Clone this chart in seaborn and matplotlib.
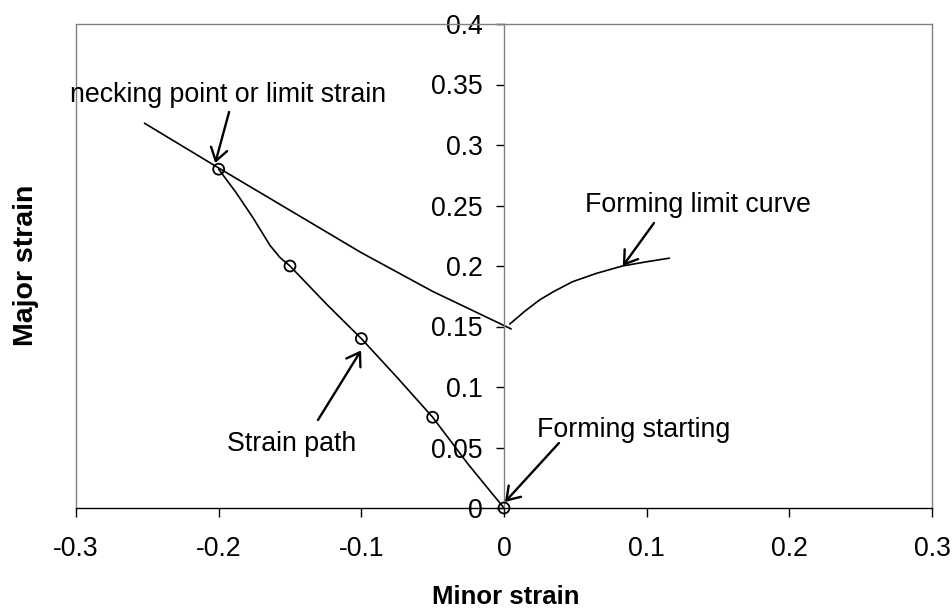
import matplotlib
matplotlib.use("Agg")
import matplotlib.pyplot as plt
import seaborn as sns
import pandas as pd

# Strain path (minor, major) followed by the sheet up to necking
path_minor = [0.0, -0.025, -0.05, -0.075, -0.1, -0.124, -0.15, -0.157, -0.164,
              -0.176, -0.188, -0.2]
path_major = [0.0, 0.036, 0.075, 0.108, 0.14, 0.168, 0.2, 0.207, 0.217,
              0.24, 0.261, 0.28]

# Measured points along the path
pts_minor = [0.0, -0.05, -0.1, -0.15, -0.2]
pts_major = [0.0, 0.075, 0.14, 0.2, 0.28]

# Forming limit curve: drawing side (left) and stretching side (right)
flc_left_minor = [-0.252, -0.2, -0.15, -0.1, -0.05, 0.005]
flc_left_major = [0.318, 0.281, 0.246, 0.211, 0.179, 0.148]
flc_right_minor = [0.004, 0.008, 0.015, 0.025, 0.035, 0.048, 0.065, 0.083,
                   0.1, 0.116]
flc_right_major = [0.152, 0.156, 0.163, 0.172, 0.179, 0.187, 0.194, 0.2,
                   0.2035, 0.2065]

x_ticks = [-0.3, -0.2, -0.1, 0.0, 0.1, 0.2, 0.3]
x_tick_labels = ["-0.3", "-0.2", "-0.1", "0", "0.1", "0.2", "0.3"]
y_ticks = [0.0, 0.05, 0.1, 0.15, 0.2, 0.25, 0.3, 0.35, 0.4]
y_tick_labels = ["0", "0.05", "0.1", "0.15", "0.2", "0.25", "0.3", "0.35", "0.4"]

sns.set_style("white")
plt.rcParams["font.family"] = ["Liberation Sans", "DejaVu Sans"]
plt.rcParams["text.color"] = "black"
plt.rcParams["axes.labelcolor"] = "black"
plt.rcParams["xtick.color"] = "black"
plt.rcParams["ytick.color"] = "black"

fig = plt.figure(figsize=(9.52, 6.10), dpi=100)
ax = fig.add_axes([76 / 952, 1 - 508 / 610, 856 / 952, 484 / 610])

path_df = pd.DataFrame({"minor": path_minor, "major": path_major})
pts_df = pd.DataFrame({"minor": pts_minor, "major": pts_major})
flc_l = pd.DataFrame({"minor": flc_left_minor, "major": flc_left_major})
flc_r = pd.DataFrame({"minor": flc_right_minor, "major": flc_right_major})

for df in (flc_l, flc_r, path_df):
    sns.lineplot(data=df, x="minor", y="major", sort=False, estimator=None,
                 color="black", linewidth=1.2, ax=ax)
sns.scatterplot(data=pts_df, x="minor", y="major", marker="o", s=62,
                facecolor="none", edgecolor="black", linewidth=1.3,
                clip_on=False, zorder=5, ax=ax)

ax.set_xlim(-0.3, 0.3)
ax.set_ylim(0, 0.4)

# frame in grey, horizontal axis in black, vertical axis through zero
grey = "#808080"
ax.spines["left"].set_position(("data", 0))
ax.spines["left"].set_color(grey)
ax.spines["left"].set_linewidth(1.0)
for side in ("top", "right"):
    ax.spines[side].set_color(grey)
    ax.spines[side].set_linewidth(1.0)
    ax.spines[side].set_visible(True)
ax.spines["bottom"].set_color("black")
ax.spines["bottom"].set_linewidth(1.0)
ax.axvline(-0.3, color=grey, linewidth=1.0, clip_on=False, zorder=2.5)

ax.set_xticks(x_ticks)
ax.set_xticklabels(x_tick_labels)
ax.set_yticks(y_ticks)
ax.set_yticklabels(y_tick_labels)
ax.tick_params(axis="x", direction="out", length=6.5, width=1.0, color="black",
               labelcolor="black", pad=14, labelsize=19.2, bottom=True)
ax.tick_params(axis="y", direction="out", length=6, width=1.0, color="black",
               labelcolor="black", pad=9.5, labelsize=19.2, left=True)
ax.set_xlabel("")
ax.set_ylabel("")

fig.text(506 / 952, 1 - 604 / 610, "Minor strain", ha="center", va="baseline",
         fontsize=18.5, fontweight="bold", color="black")
fig.text(33 / 952, 1 - 265 / 610, "Major strain", ha="center", va="baseline",
         rotation=90, rotation_mode="anchor", fontsize=20.5, fontweight="bold",
         color="black")

arrow = dict(arrowstyle="->,head_length=0.45,head_width=0.3", lw=1.7,
             color="black", shrinkA=0, shrinkB=0, mutation_scale=20)

ax.annotate("", xy=(-0.2024, 0.2851), xytext=(-0.1927, 0.3273), arrowprops=arrow)
ax.annotate("", xy=(0.0833, 0.2000), xytext=(0.1051, 0.2355), arrowprops=arrow)
ax.annotate("", xy=(-0.1002, 0.1302), xytext=(-0.1304, 0.0727), arrowprops=arrow)
ax.annotate("", xy=(0.0007, 0.0050), xytext=(0.0385, 0.0537), arrowprops=arrow)

label_kw = dict(ha="center", va="baseline", fontsize=19.3, color="black")
ax.text(-0.1935, 0.3358, "necking point or limit strain", **label_kw)
ax.text(0.1356, 0.2449, "Forming limit curve", **label_kw)
ax.text(-0.149, 0.0474, "Strain path", **label_kw)
ax.text(0.0911, 0.0589, "Forming starting", **label_kw)

fig.savefig("out.png", dpi=100)
